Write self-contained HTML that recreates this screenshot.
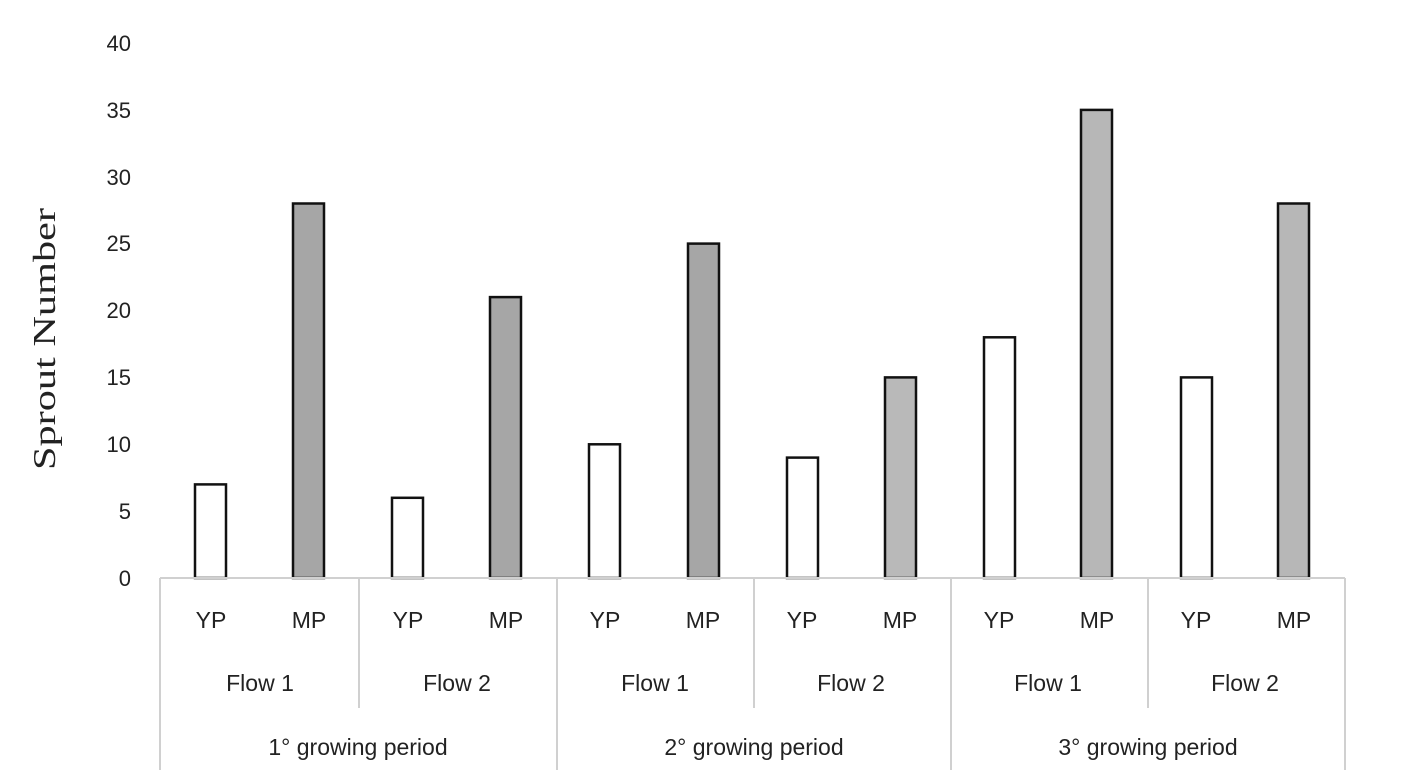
<!DOCTYPE html><html><head><style>body{margin:0;background:#fff}</style></head><body>
<svg width="1419" height="779" xmlns="http://www.w3.org/2000/svg" font-family="Liberation Sans, sans-serif">
<rect width="1419" height="779" fill="#fff"/>
<g font-size="22" fill="#222" text-anchor="end">
<text x="131" y="586">0</text><text x="131" y="519">5</text><text x="131" y="452">10</text><text x="131" y="385">15</text><text x="131" y="318">20</text><text x="131" y="251">25</text><text x="131" y="185">30</text><text x="131" y="118">35</text><text x="131" y="51">40</text>
</g>
<text transform="translate(55,339) rotate(-90)" text-anchor="middle" font-family="Liberation Serif, serif" font-size="32" textLength="262" lengthAdjust="spacingAndGlyphs" fill="#222">Sprout Number</text>
<g stroke="#111" stroke-width="2.5">
<rect x="195" y="484.4" width="31" height="93.6" fill="#fff"/>
<rect x="293" y="203.5" width="31" height="374.5" fill="#a6a6a6"/>
<rect x="392" y="497.8" width="31" height="80.2" fill="#fff"/>
<rect x="490" y="297.1" width="31" height="280.9" fill="#a6a6a6"/>
<rect x="589" y="444.3" width="31" height="133.7" fill="#fff"/>
<rect x="688" y="243.6" width="31" height="334.4" fill="#a6a6a6"/>
<rect x="787" y="457.6" width="31" height="120.4" fill="#fff"/>
<rect x="885" y="377.4" width="31" height="200.6" fill="#b9b9b9"/>
<rect x="984" y="337.3" width="31" height="240.7" fill="#fff"/>
<rect x="1081" y="109.9" width="31" height="468.1" fill="#b7b7b7"/>
<rect x="1181" y="377.4" width="31" height="200.6" fill="#fff"/>
<rect x="1278" y="203.5" width="31" height="374.5" fill="#b7b7b7"/>
</g>
<g stroke="#d0d0d0" stroke-width="2">
<line x1="160" y1="578" x2="1345" y2="578"/>
<line x1="160" y1="578" x2="160" y2="770"/>
<line x1="557" y1="578" x2="557" y2="770"/>
<line x1="951" y1="578" x2="951" y2="770"/>
<line x1="1345" y1="578" x2="1345" y2="770"/>
<line x1="359" y1="578" x2="359" y2="708"/>
<line x1="754" y1="578" x2="754" y2="708"/>
<line x1="1148" y1="578" x2="1148" y2="708"/>
</g>
<g font-size="23" fill="#222" text-anchor="middle">
<text x="211" y="628">YP</text><text x="309" y="628">MP</text>
<text x="408" y="628">YP</text><text x="506" y="628">MP</text>
<text x="605" y="628">YP</text><text x="703" y="628">MP</text>
<text x="802" y="628">YP</text><text x="900" y="628">MP</text>
<text x="999" y="628">YP</text><text x="1097" y="628">MP</text>
<text x="1196" y="628">YP</text><text x="1294" y="628">MP</text>
<text x="260" y="691">Flow 1</text><text x="457" y="691">Flow 2</text>
<text x="655" y="691">Flow 1</text><text x="851" y="691">Flow 2</text>
<text x="1048" y="691">Flow 1</text><text x="1245" y="691">Flow 2</text>
<text x="358" y="755">1° growing period</text>
<text x="754" y="755">2° growing period</text>
<text x="1148" y="755">3° growing period</text>
</g>
</svg></body></html>
